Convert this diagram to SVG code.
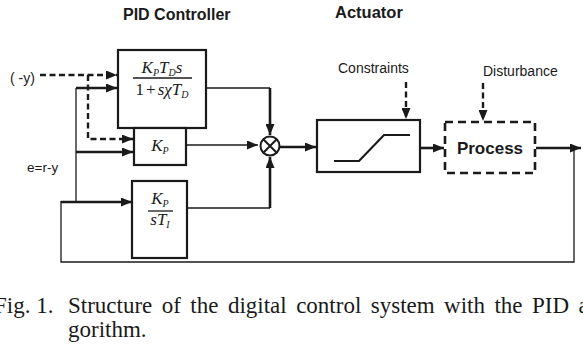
<svg xmlns="http://www.w3.org/2000/svg" width="583" height="351" viewBox="0 0 583 351">
<style>
.box{fill:#fff;stroke:#1a1a1a;stroke-width:2.2}
.dbox{fill:#fff;stroke:#1a1a1a;stroke-width:2.6;stroke-dasharray:8 5}
.thin{fill:none;stroke:#1a1a1a;stroke-width:1.3}
.thick{fill:none;stroke:#1a1a1a;stroke-width:2.6}
.dash{fill:none;stroke:#1a1a1a;stroke-width:2.4;stroke-dasharray:6 3.5}
.lbl{font-family:"Liberation Sans",Arial,sans-serif;fill:#1a1a1a}
.bold{font-weight:bold}
.math{font-family:"Liberation Serif","Times New Roman",serif;font-style:italic;fill:#1a1a1a}
.up{font-style:normal}
.cap{font-family:"Liberation Serif","Times New Roman",serif;font-size:23px;fill:#1a1a1a}
</style>
<defs>
<marker id="ah" viewBox="0 0 11 9" refX="11" refY="4.5" markerWidth="11" markerHeight="9" orient="auto" markerUnits="userSpaceOnUse">
<path d="M0,0 L11,4.5 L0,9 z" fill="#1a1a1a"/>
</marker>
</defs>

<text class="lbl bold" x="123" y="20" font-size="16">PID  Controller</text>
<text class="lbl bold" x="335" y="18" font-size="16.5">Actuator</text>
<text class="lbl" x="338" y="73" font-size="14">Constraints</text>
<text class="lbl" x="483" y="76" font-size="14">Disturbance</text>
<text class="lbl" x="10" y="83" font-size="14">( -y)</text>
<text class="lbl" x="27" y="172" font-size="13.5">e=r-y</text>

<g id="connectors">
<path class="dash" d="M40,75 L117,75" marker-end="url(#ah)"/>
<path class="dash" d="M88,75 L88,139 L133,139" marker-end="url(#ah)"/>
<path class="thin" d="M76,202 L76,88"/>
<path class="thick" d="M76,88 L117,88" marker-end="url(#ah)"/>
<path class="thick" d="M76,152 L133,152" marker-end="url(#ah)"/>
<path class="thick" d="M61,202 L132,202" marker-end="url(#ah)"/>
<path class="thin" d="M206,88 L270,88"/>
<path class="thick" d="M270,88 L270,135" marker-end="url(#ah)"/>
<path class="thin" d="M186,145 L258,145" marker-end="url(#ah)"/>
<path class="thin" d="M187,208 L270,208"/>
<path class="thick" d="M270,208 L270,157" marker-end="url(#ah)"/>
<path class="thick" d="M280,147 L316,147" marker-end="url(#ah)"/>
<path class="thick" d="M421,148 L444,148" marker-end="url(#ah)"/>
<path class="dash" d="M406,82 L406,119" marker-end="url(#ah)"/>
<path class="dash" d="M483,83 L483,121" marker-end="url(#ah)"/>
<path class="thick" d="M536,148 L581,148" marker-end="url(#ah)"/>
<path class="thin" d="M574,148 L574,262 L61,262 L61,201"/>
</g>

<g id="derivative">
<rect class="box" x="118" y="50" width="88" height="78"/>
<text class="math" x="162" y="73" font-size="17" text-anchor="middle">K<tspan font-size="10" dy="3">P</tspan><tspan dy="-3">T</tspan><tspan font-size="10" dy="3">D</tspan><tspan dy="-3">s</tspan></text>
<line class="thin" x1="133" y1="78" x2="192" y2="78"/>
<text class="math" x="162" y="95" font-size="17" text-anchor="middle"><tspan class="up">1</tspan><tspan class="up" dx="2">+</tspan><tspan dx="2">sχT</tspan><tspan font-size="10" dy="3">D</tspan></text>
</g>

<g id="proportional">
<rect class="box" x="134" y="128" width="52" height="37"/>
<text class="math" x="160" y="151" font-size="17" text-anchor="middle">K<tspan font-size="10" dy="3">P</tspan></text>
</g>

<g id="integral">
<rect class="box" x="132" y="181" width="55" height="77"/>
<text class="math" x="160" y="204" font-size="17" text-anchor="middle">K<tspan font-size="10" dy="3">P</tspan></text>
<line class="thin" x1="148" y1="211" x2="173" y2="211"/>
<text class="math" x="160" y="225" font-size="17" text-anchor="middle">sT<tspan font-size="10" dy="3">I</tspan></text>
</g>

<g id="sum">
<circle cx="270" cy="146" r="9.5" fill="#fff" stroke="#1a1a1a" stroke-width="2"/>
<path d="M263.3,139.3 L276.7,152.7 M276.7,139.3 L263.3,152.7" stroke="#1a1a1a" stroke-width="2"/>
</g>

<g id="actuator">
<rect class="box" x="317" y="120" width="103" height="52"/>
<path d="M334,161 L359,161 L384,135 L410,135" fill="none" stroke="#1a1a1a" stroke-width="2.2"/>
</g>

<g id="process">
<rect class="dbox" x="445" y="122" width="90" height="51"/>
<text class="lbl bold" x="490" y="154" font-size="17" text-anchor="middle">Process</text>
</g>

<text class="cap" x="-6" y="313">Fig. 1.</text>
<text class="cap" x="68" y="313" word-spacing="3.7">Structure of the digital control system with the PID a</text>
<text class="cap" x="68" y="337">gorithm.</text>
</svg>
